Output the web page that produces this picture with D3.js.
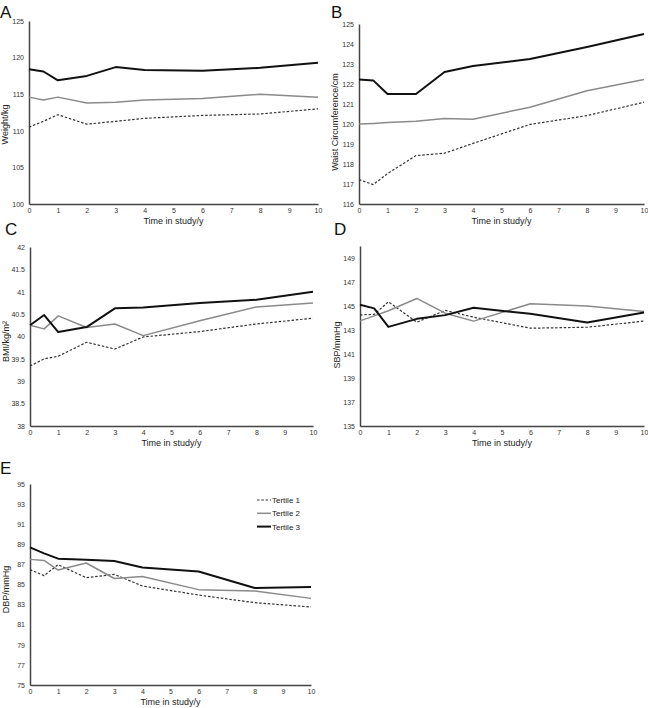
<!DOCTYPE html>
<html><head><meta charset="utf-8">
<script src="https://cdn.jsdelivr.net/npm/d3@7"></script>
<style>body{margin:0;background:#fff}svg{display:block;font-family:"Liberation Sans",Arial,sans-serif}</style>
</head><body><svg id="c" width="648" height="708"></svg>
<script>
const times = [0, 0.5, 1, 2, 3, 4, 6, 8, 10];
const xTicks = [0,1,2,3,4,5,6,7,8,9,10];
const seriesNames = ["Tertile 1", "Tertile 2", "Tertile 3"];

const weightT1 = [110.5, 111.3, 112.2, 110.9, 111.3, 111.7, 112.1, 112.3, 113.0];
const weightT2 = [114.6, 114.2, 114.6, 113.8, 113.9, 114.2, 114.4, 115.0, 114.6];
const weightT3 = [118.4, 118.1, 116.9, 117.5, 118.7, 118.3, 118.2, 118.6, 119.3];
const weightTicks = [100, 105, 110, 115, 120, 125];

const waistT1 = [117.22, 116.97, 117.52, 118.42, 118.54, 119.03, 119.98, 120.42, 121.09];
const waistT2 = [120.0, 120.03, 120.07, 120.14, 120.28, 120.24, 120.84, 121.66, 122.23];
const waistT3 = [122.23, 122.18, 121.5, 121.5, 122.6, 122.9, 123.25, 123.85, 124.5];
const waistTicks = [116,117,118,119,120,121,122,123,124,125];

const bmiT1 = [39.34, 39.5, 39.56, 39.87, 39.72, 39.99, 40.11, 40.28, 40.41];
const bmiT2 = [40.25, 40.17, 40.46, 40.2, 40.28, 40.02, 40.35, 40.66, 40.75];
const bmiT3 = [40.25, 40.48, 40.1, 40.21, 40.63, 40.65, 40.75, 40.82, 41.0];
const bmiTicks = [38, 38.5, 39, 39.5, 40, 40.5, 41, 41.5, 42];

const sbpT1 = [144.26, 144.3, 145.35, 143.65, 144.63, 144.07, 143.15, 143.23, 143.74];
const sbpT2 = [143.76, 144.18, 144.6, 145.63, 144.4, 143.74, 145.18, 145.0, 144.54];
const sbpT3 = [145.1, 144.8, 143.26, 143.93, 144.24, 144.85, 144.35, 143.62, 144.46];
const sbpTicks = [135,137,139,141,143,145,147,149];

const dbpT1 = [86.48, 85.88, 86.97, 85.68, 86.01, 84.85, 83.95, 83.19, 82.76];
const dbpT2 = [87.5, 87.4, 86.44, 87.14, 85.6, 85.8, 84.49, 84.35, 83.62];
const dbpT3 = [88.7, 88.1, 87.57, 87.47, 87.34, 86.7, 86.3, 84.65, 84.75];
const dbpTicks = [75,77,79,81,83,85,87,89,91,93,95];

const styles = [
  {stroke:"#333", width:1.2, dash:"2.5,1.8"},
  {stroke:"#8a8a8a", width:1.5, dash:null},
  {stroke:"#111", width:2, dash:null}
];

const svg = d3.select("#c");

function panel(o){
  const g = svg.append("g");
  const x = d3.scaleLinear().domain([0,10]).range([o.x0, o.x1]);
  const y = d3.scaleLinear().domain(o.domain).range([o.yb, o.yt]);
  const ya = g.append("g").attr("transform",`translate(${o.x0},0)`)
    .call(d3.axisLeft(y).tickValues(o.ticks).tickSize(0).tickPadding(5).tickFormat(d=>d));
  ya.select(".domain").attr("stroke","#444").attr("stroke-width",1.5);
  ya.selectAll("text").attr("font-size",7).attr("fill","#333").attr("font-family","Liberation Sans, Arial, sans-serif");
  const xa = g.append("g").attr("transform",`translate(0,${o.yb})`)
    .call(d3.axisBottom(x).tickValues(xTicks).tickSize(0).tickPadding(4).tickFormat(d=>d));
  xa.select(".domain").attr("stroke","#444").attr("stroke-width",1.5);
  xa.selectAll("text").attr("font-size",7).attr("fill","#333").attr("font-family","Liberation Sans, Arial, sans-serif");
  g.append("text").attr("x",(o.x0+o.x1)/2).attr("y",o.yb+20).attr("text-anchor","middle")
    .attr("font-size",9).attr("fill","#222").text("Time in study/y");
  g.append("text").attr("transform",`translate(${o.ylx},${(o.yt+o.yb)/2 + o.yoff}) rotate(-90)`)
    .attr("text-anchor","middle").attr("font-size",9).attr("fill","#222").text(o.ylabel);
  g.append("text").attr("x",o.lx).attr("y",o.ly).attr("font-size",17).attr("fill","#111").text(o.letter);
  const line = d3.line().x((d,i)=>x(times[i])).y(d=>y(d));
  o.series.forEach((s,k)=>{
    g.append("path").datum(s).attr("d",line).attr("fill","none")
      .attr("stroke",styles[k].stroke).attr("stroke-width",styles[k].width)
      .attr("stroke-dasharray",styles[k].dash).attr("stroke-linejoin","round");
  });
  return g;
}

panel({x0:29,x1:318,yt:21,yb:204,domain:[100,125],ticks:weightTicks,ylabel:"Weight/kg",ylx:8,yoff:12,
  letter:"A",lx:0,ly:18,series:[weightT1,weightT2,weightT3]});
panel({x0:359,x1:644,yt:24,yb:204,domain:[116,125],ticks:waistTicks,ylabel:"Waist Circumference/cm",ylx:338,yoff:8,
  letter:"B",lx:331,ly:18,series:[waistT1,waistT2,waistT3]});
panel({x0:30,x1:313,yt:247,yb:426,domain:[38,42],ticks:bmiTicks,ylabel:"BMI/kg/m²",ylx:9,yoff:5,
  letter:"C",lx:5,ly:235,series:[bmiT1,bmiT2,bmiT3]});
panel({x0:360,x1:644,yt:246,yb:426,domain:[135,150],ticks:sbpTicks,ylabel:"SBP/mmHg",ylx:340,yoff:9,
  letter:"D",lx:334,ly:235,series:[sbpT1,sbpT2,sbpT3]});
panel({x0:30,x1:311,yt:484,yb:685,domain:[75,95],ticks:dbpTicks,ylabel:"DBP/mmHg",ylx:9,yoff:5,
  letter:"E",lx:0,ly:474,series:[dbpT1,dbpT2,dbpT3]});

const leg = svg.append("g").attr("transform","translate(257,500)");
seriesNames.forEach((n,k)=>{
  const r = leg.append("g").attr("transform",`translate(0,${k*13.3})`);
  r.append("line").attr("x1",0).attr("x2",14).attr("y1",0).attr("y2",0)
    .attr("stroke",styles[k].stroke).attr("stroke-width",styles[k].width).attr("stroke-dasharray",styles[k].dash);
  r.append("text").attr("x",15).attr("y",3).attr("font-size",8).attr("fill","#222").text(n);
});
</script></body></html>
